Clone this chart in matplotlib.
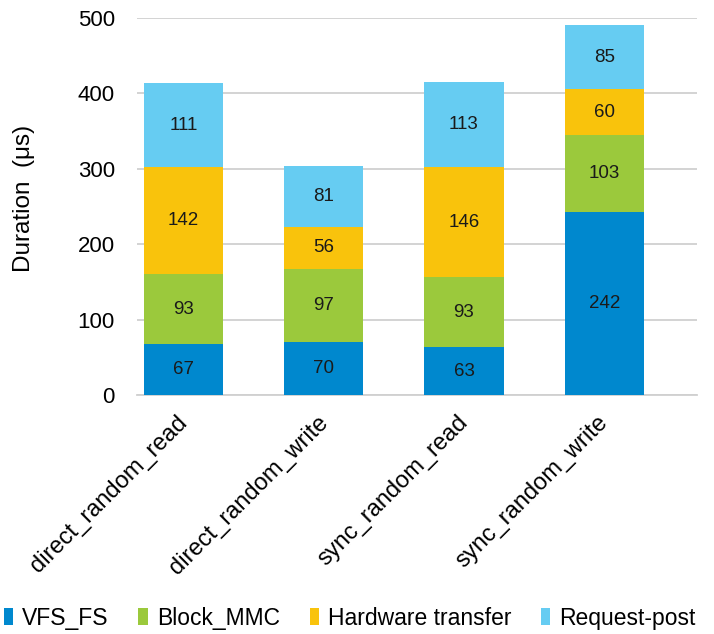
import matplotlib
matplotlib.use("Agg")
import matplotlib.pyplot as plt
import matplotlib.transforms as mtrans
import numpy as np

categories = ["direct_random_read", "direct_random_write", "sync_random_read", "sync_random_write"]
series_names = ["VFS_FS", "Block_MMC", "Hardware transfer", "Request-post"]
vfs_fs = [67, 70, 63, 242]
block_mmc = [93, 97, 93, 103]
hw_transfer = [142, 56, 146, 60]
request_post = [111, 81, 113, 85]
yticks = [0, 100, 200, 300, 400, 500]

colors = ["#0088CE", "#9BC93C", "#F9C30C", "#66CCF2"]

plt.rcParams['font.family'] = ['Liberation Sans', 'DejaVu Sans']

fig = plt.figure(figsize=(7.14, 6.34), dpi=100)
ax = fig.add_axes([0.192, 0.377, 0.784, 0.595])

x = np.arange(len(categories))
bottom = np.zeros(len(categories))
handles = []
for name, vals, c in zip(series_names, [vfs_fs, block_mmc, hw_transfer, request_post], colors):
    vals = np.array(vals, dtype=float)
    bars = ax.bar(x, vals, width=0.565, bottom=bottom, color=c, label=name, zorder=3)
    for xi, b, v in zip(x, bottom, vals):
        ax.text(xi, b + v / 2, f"{int(v)}", ha="center", va="center", fontsize=13.5, color="#1a1a1a", zorder=4)
    bottom += vals
    handles.append(bars)

ax.set_xlim(-0.33, 3.66)
ax.set_ylim(0, 500)
ax.set_yticks(yticks)
ax.set_yticklabels([str(t) for t in yticks], fontsize=16)
ax.yaxis.grid(True, color="#D0D0D0", linewidth=1.3, zorder=0)
ax.set_axisbelow(True)
for s in ["top", "right", "left"]:
    ax.spines[s].set_visible(False)
ax.spines["bottom"].set_color("#D0D0D0")
ax.spines["bottom"].set_linewidth(1.3)
ax.tick_params(axis="both", length=0)
ax.tick_params(axis="y", pad=16)
ax.set_xticks(x)
ax.set_xticklabels(categories, rotation=45, ha="right", rotation_mode="anchor", fontsize=17)
ax.tick_params(axis="x", pad=12)
offset = mtrans.ScaledTranslation(-0.07, 0, fig.dpi_scale_trans)
for lbl in ax.get_xticklabels():
    lbl.set_transform(lbl.get_transform() + offset)
ax.set_ylabel("Duration  (μs)", fontsize=17.5)
ax.yaxis.set_label_coords(-0.183, 0.52)

fig.legend(handles=handles, labels=series_names, loc="center", bbox_to_anchor=(0.49, 0.025),
           ncol=4, frameon=False, fontsize=16.5, handlelength=0.4, handleheight=0.8,
           handletextpad=0.4, columnspacing=1.3, borderaxespad=0, borderpad=0)

fig.savefig("out.png", dpi=100)
